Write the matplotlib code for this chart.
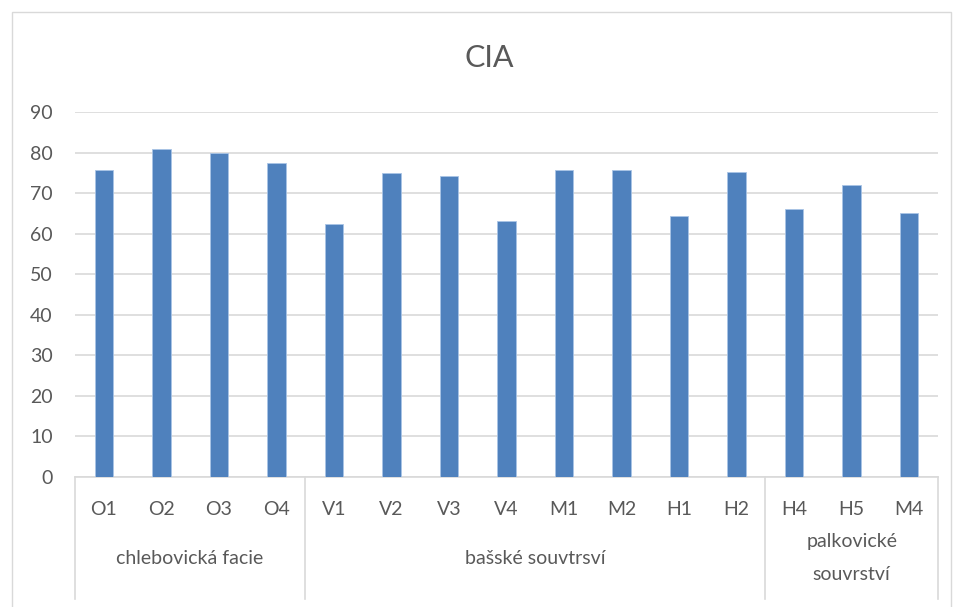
import numpy as np
import matplotlib.pyplot as plt
from matplotlib.patches import Rectangle

plt.rcParams['font.family'] = ['Lato', 'DejaVu Sans']

categories = ['O1', 'O2', 'O3', 'O4', 'V1', 'V2', 'V3', 'V4',
              'M1', 'M2', 'H1', 'H2', 'H4', 'H5', 'M4']
cia = [75.6, 80.9, 80.0, 77.5, 62.3, 75.0, 74.3, 63.1,
       75.6, 75.6, 64.3, 75.1, 66.2, 72.1, 65.0]
group_names = ['chlebovická facie', 'bašské souvtrsví', 'palkovické\nsouvrství']
group_sizes = [4, 8, 3]

W, H = 957, 607
fig = plt.figure(figsize=(W / 100, H / 100), dpi=100)
fig.patches.append(Rectangle((12 / W, -0.05), 939 / W, 1 - 12 / H + 0.05,
                             transform=fig.transFigure, fill=False,
                             edgecolor='#d9d9d9', lw=1))

left, right, top, bottom = 75, 938, 112, 477
ax = fig.add_axes([left / W, 1 - bottom / H, (right - left) / W, (bottom - top) / H])

x = np.arange(len(categories))
ax.bar(x, cia, width=0.32, color='#4f81bd', edgecolor='#a9c4e6', lw=0.6, zorder=3)

ax.set_xlim(-0.5, len(categories) - 0.5)
ax.set_ylim(0, 90)
ax.set_yticks(range(0, 91, 10))
ax.grid(axis='y', color='#d9d9d9', lw=1.2, zorder=0)
for s in ['top', 'right', 'left']:
    ax.spines[s].set_visible(False)
ax.spines['bottom'].set_color('#d9d9d9')
ax.spines['bottom'].set_linewidth(1.2)
ax.tick_params(axis='y', length=0, pad=16, labelsize=14, labelcolor='#595959')
ax.tick_params(axis='x', length=0, pad=17, labelsize=14, labelcolor='#595959')
ax.set_xticks(x)
ax.set_xticklabels(categories)

# group separators and labels below the axis
trans = ax.get_xaxis_transform()
ph = bottom - top
edges = np.concatenate([[0], np.cumsum(group_sizes)]) - 0.5
for e in edges:
    ax.plot([e, e], [0, -122 / ph], transform=trans, color='#d9d9d9',
            lw=1.2, clip_on=False)
for i, name in enumerate(group_names):
    c = (edges[i] + edges[i + 1]) / 2
    ax.text(c, -(558 - bottom) / ph, name, transform=trans, ha='center',
            va='center', fontsize=14, color='#595959', linespacing=2.2)

fig.text(489 / W, 1 - 58 / H, 'CIA', ha='center', va='center',
         fontsize=22, color='#595959')

fig.savefig('out.png', dpi=100)
